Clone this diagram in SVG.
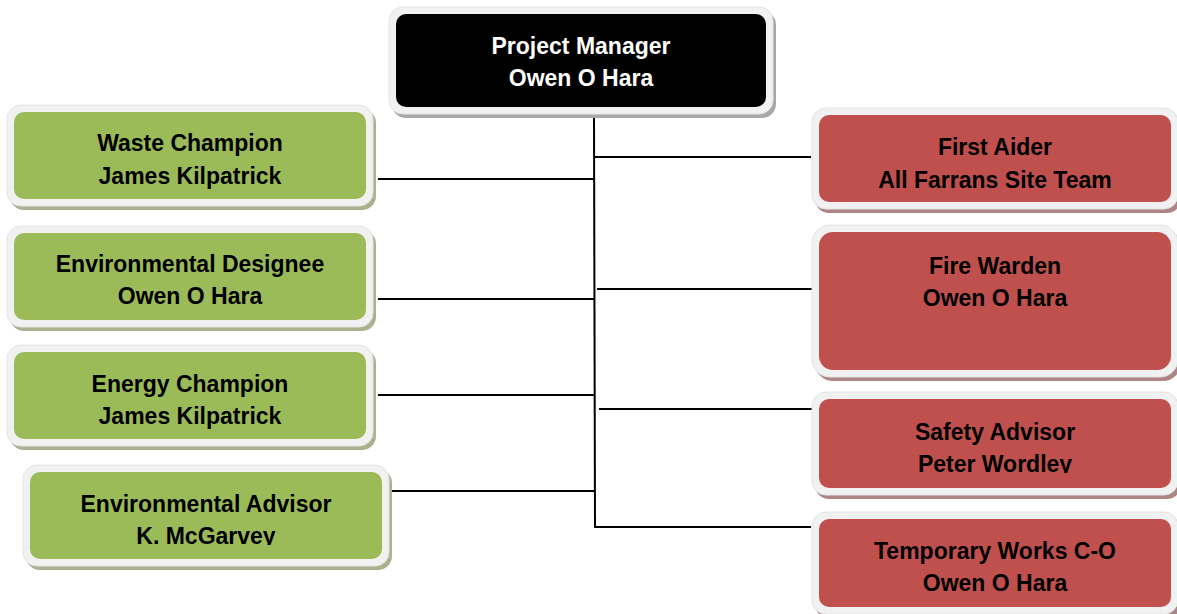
<svg xmlns="http://www.w3.org/2000/svg" width="1177" height="614" viewBox="0 0 1177 614">
<defs>
<style>
.frame{fill:#f1f1f1;stroke:#e4e4e4;stroke-width:1}
.shg{fill:#a8a8a8}
.shgreen{fill:#aab290}
.shred{fill:#ad8585}
.green{fill:#9bbb59}
.red{fill:#c0504d}
.black{fill:#000}
text{font-family:"Liberation Sans",Arial,sans-serif;font-weight:bold;font-size:23px;text-anchor:middle;fill:#000}
.wt{fill:#fff}
.conn line{stroke:#000;stroke-width:2}
</style>
<clipPath id="clipAdv"><rect x="0" y="0" width="1177" height="545"/></clipPath>
<clipPath id="clipSaf"><rect x="0" y="0" width="1177" height="473"/></clipPath>
</defs>
<rect width="1177" height="614" fill="#fff"/>
<g id="connectors" class="conn">
<line x1="594" y1="115" x2="595" y2="528"/>
<line x1="594" y1="157" x2="811" y2="157"/>
<line x1="597" y1="289" x2="813" y2="289"/>
<line x1="599" y1="409" x2="815" y2="409"/>
<line x1="595" y1="527" x2="811" y2="527"/>
<line x1="378" y1="179" x2="594" y2="179"/>
<line x1="378" y1="299" x2="594" y2="299"/>
<line x1="378" y1="395" x2="595" y2="395"/>
<line x1="386" y1="491" x2="595" y2="491"/>
</g>
<g id="pm">
<rect class="shg" x="392" y="11" width="384" height="107" rx="14"/>
<rect class="frame" x="389" y="7" width="384" height="107" rx="14"/>
<rect class="black" x="396" y="14" width="370" height="93" rx="10"/>
<text class="wt" x="581" y="54">Project Manager</text>
<text class="wt" x="581" y="86">Owen O Hara</text>
</g>
<g id="waste">
<rect class="shgreen" x="10" y="109" width="366" height="101" rx="14"/>
<rect class="frame" x="7" y="105" width="366" height="101" rx="14"/>
<rect class="green" x="14" y="112" width="352" height="87" rx="10"/>
<text x="190" y="151">Waste Champion</text>
<text x="190" y="184">James Kilpatrick</text>
</g>
<g id="envdes">
<rect class="shgreen" x="10" y="230" width="366" height="101" rx="14"/>
<rect class="frame" x="7" y="226" width="366" height="101" rx="14"/>
<rect class="green" x="14" y="233" width="352" height="87" rx="10"/>
<text x="190" y="272">Environmental Designee</text>
<text x="190" y="304">Owen O Hara</text>
</g>
<g id="energy">
<rect class="shgreen" x="10" y="349" width="366" height="101" rx="14"/>
<rect class="frame" x="7" y="345" width="366" height="101" rx="14"/>
<rect class="green" x="14" y="352" width="352" height="87" rx="10"/>
<text x="190" y="392">Energy Champion</text>
<text x="190" y="424">James Kilpatrick</text>
</g>
<g id="envadv">
<rect class="shgreen" x="26" y="469" width="366" height="101" rx="14"/>
<rect class="frame" x="23" y="465" width="366" height="101" rx="14"/>
<rect class="green" x="30" y="472" width="352" height="87" rx="10"/>
<text x="206" y="512">Environmental Advisor</text>
<text x="206" y="544" clip-path="url(#clipAdv)">K. McGarvey</text>
</g>
<g id="firstaider">
<rect class="shred" x="815" y="112" width="366" height="101" rx="14"/>
<rect class="frame" x="812" y="108" width="366" height="101" rx="14"/>
<rect class="red" x="819" y="115" width="352" height="87" rx="10"/>
<text x="995" y="155">First Aider</text>
<text x="995" y="188">All Farrans Site Team</text>
</g>
<g id="firewarden">
<rect class="shred" x="815" y="229" width="366" height="152" rx="18"/>
<rect class="frame" x="812" y="225" width="366" height="152" rx="18"/>
<rect class="red" x="819" y="232" width="352" height="138" rx="14"/>
<text x="995" y="274">Fire Warden</text>
<text x="995" y="306">Owen O Hara</text>
</g>
<g id="safety">
<rect class="shred" x="815" y="396" width="366" height="103" rx="14"/>
<rect class="frame" x="812" y="392" width="366" height="103" rx="14"/>
<rect class="red" x="819" y="399" width="352" height="89" rx="10"/>
<text x="995" y="440">Safety Advisor</text>
<text x="995" y="472" clip-path="url(#clipSaf)">Peter Wordley</text>
</g>
<g id="tempworks">
<rect class="shred" x="815" y="516" width="366" height="102" rx="14"/>
<rect class="frame" x="812" y="512" width="366" height="102" rx="14"/>
<rect class="red" x="819" y="519" width="352" height="88" rx="10"/>
<text x="995" y="559">Temporary Works C-O</text>
<text x="995" y="591">Owen O Hara</text>
</g>
</svg>
